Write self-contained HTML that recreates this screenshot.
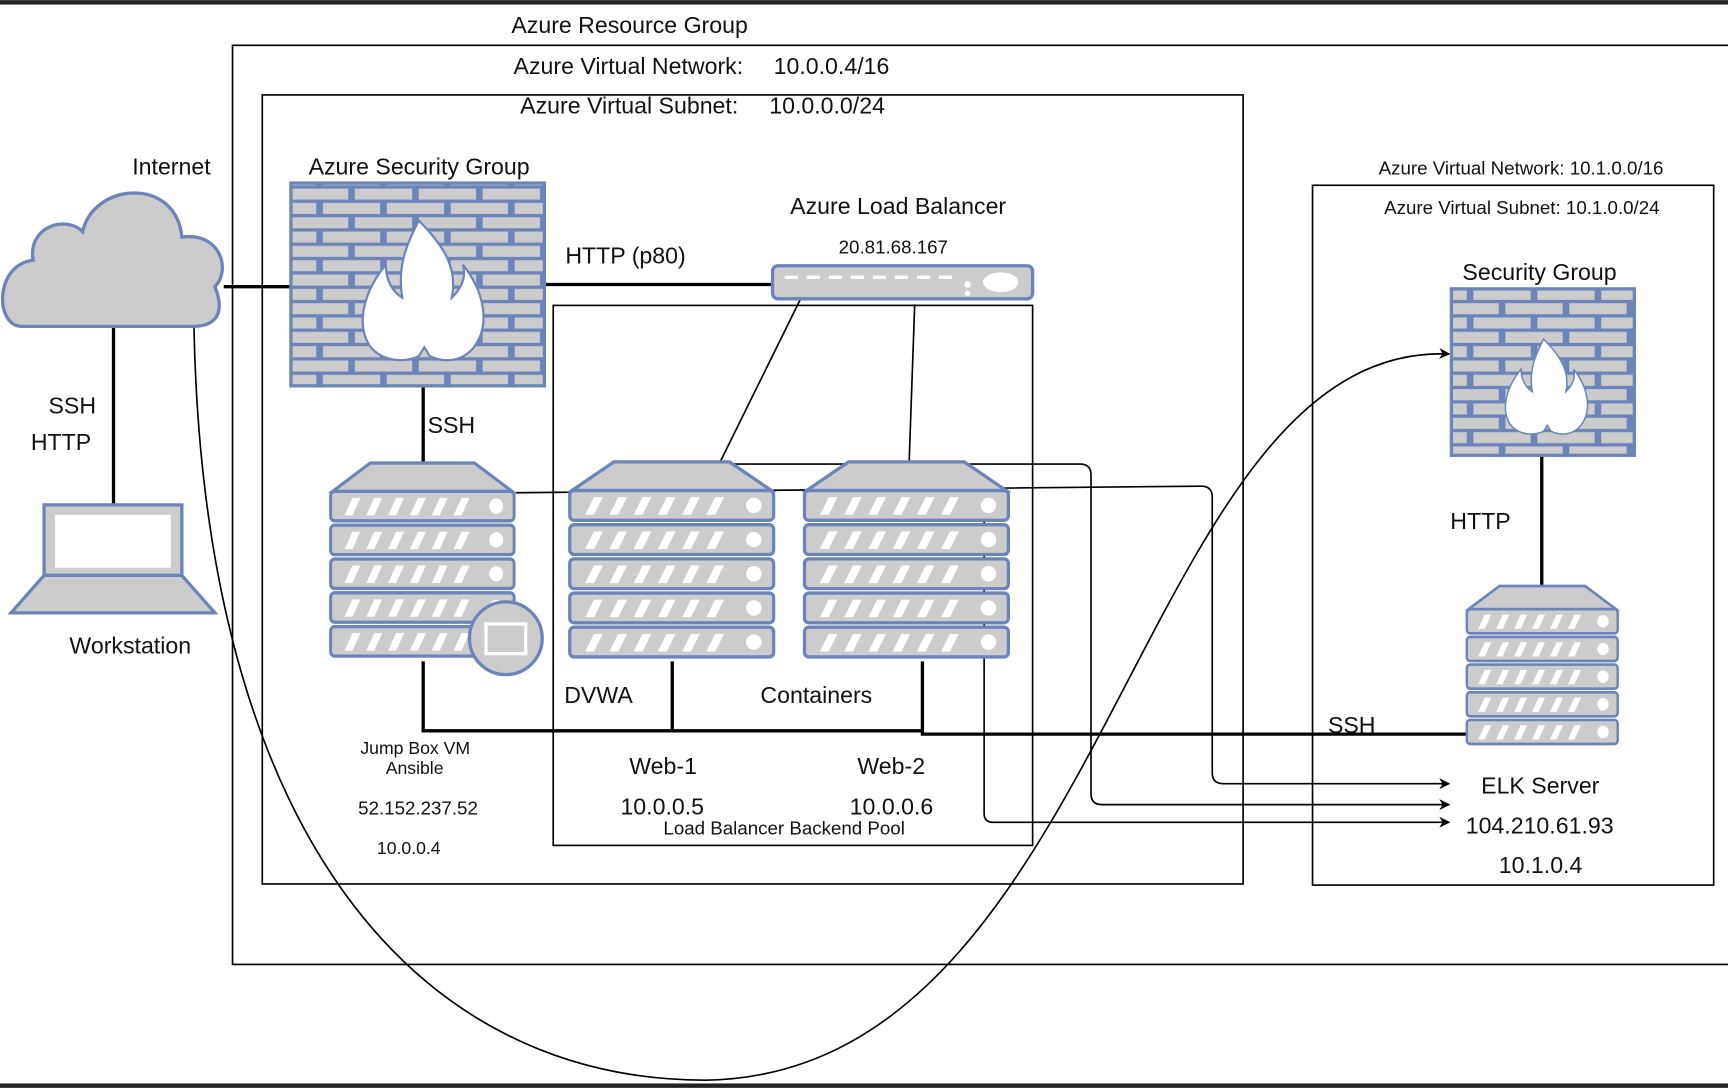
<!DOCTYPE html>
<html><head><meta charset="utf-8"><style>
html,body{margin:0;padding:0;background:#fff;}
svg{display:block;}
text{font-family:"Liberation Sans",Arial,sans-serif;fill:#111;}
</style></head><body>
<svg width="1728" height="1088" viewBox="0 0 1568 987" xmlns="http://www.w3.org/2000/svg">
<defs>
<marker id="ar" markerWidth="10" markerHeight="10" refX="9" refY="5" orient="auto" markerUnits="userSpaceOnUse"><path d="M0,0 L10,5 L0,10 L3,5 z" fill="#000"/></marker>
<g id="row">
 <rect x="0" y="0" width="185" height="27" rx="4" fill="#cccccc" stroke="#6c84b8" stroke-width="3"/>
 <g fill="#fff"><path d="M14,22 L22,6 L30,6 L22,22z"/><path d="M36,22 L44,6 L52,6 L44,22z"/><path d="M58,22 L66,6 L74,6 L66,22z"/><path d="M80,22 L88,6 L96,6 L88,22z"/><path d="M102,22 L110,6 L118,6 L110,22z"/><path d="M124,22 L132,6 L140,6 L132,22z"/></g>
 <circle cx="167" cy="13.5" r="7" fill="#fff"/>
</g>
<g id="srv">
 <path d="M2,28 L40,2 L145,2 L183,28z" fill="#cccccc" stroke="#6c84b8" stroke-width="3"/>
 <use href="#row" y="28"/><use href="#row" y="59"/><use href="#row" y="90"/><use href="#row" y="121"/><use href="#row" y="152"/>
</g>
<pattern id="brick" width="58" height="26" patternUnits="userSpaceOnUse">
 <rect width="58" height="26" fill="#6c84b8"/>
 <rect x="3" y="2" width="52" height="10" fill="#cccccc"/>
 <rect x="-26" y="15" width="52" height="10" fill="#cccccc"/><rect x="32" y="15" width="52" height="10" fill="#cccccc"/>
</pattern>
<g id="fire"><path d="M-5,-55 C20,-30 30,-10 25,15 C35,5 38,-5 35,-15 C55,10 60,40 45,60 C35,72 20,75 5,68 L0,60 L-5,68 C-20,75 -40,72 -50,58 C-62,38 -55,10 -35,-15 C-35,0 -28,10 -20,15 C-25,-15 -15,-35 -5,-55 Z" fill="#fff" stroke="#6c84b8" stroke-width="2"/></g>
</defs>
<rect x="0" y="0" width="1568" height="4" fill="#222"/>
<rect x="0" y="983" width="1568" height="4" fill="#222"/>
<rect x="211" y="41" width="1370" height="834" fill="none" stroke="#000" stroke-width="1.5"/>
<rect x="238" y="86" width="890" height="716" fill="none" stroke="#000" stroke-width="1.5"/>
<rect x="502" y="277" width="435" height="490" fill="none" stroke="#000" stroke-width="1.5"/>
<rect x="1191" y="168" width="364" height="635" fill="none" stroke="#000" stroke-width="1.5"/>
<g stroke="#000" stroke-width="3" fill="none">
<line x1="203" y1="260" x2="266" y2="260"/>
<line x1="492" y1="258" x2="702" y2="258"/>
<line x1="103" y1="296" x2="103" y2="459"/>
<line x1="384" y1="348" x2="384" y2="421"/>
<polyline points="384,600 384,663 837,663"/>
<line x1="610" y1="600" x2="610" y2="663"/>
<polyline points="837,600 837,666 1336,666"/>
<line x1="1399" y1="413" x2="1399" y2="531"/>
</g>
<g stroke="#000" stroke-width="1.5" fill="none">
<line x1="726" y1="272" x2="654" y2="418"/>
<line x1="830" y1="276" x2="825" y2="418"/>
<path d="M665,421 L980,421 Q990,421 990,431 L990,720 Q990,730 1000,730 L1315,730" marker-end="url(#ar)"/>
<path d="M468,447 L1090,441 Q1100,441 1100,451 L1100,701 Q1100,711 1110,711 L1315,711" marker-end="url(#ar)"/>
<path d="M880,447 L885,447 Q893,447 893,455 L893,738 Q893,746 901,746 L1315,746" marker-end="url(#ar)"/>
<path d="M176,296 C185,760 380,980 640,980 C1010,975 1030,310 1315,321" marker-end="url(#ar)"/>
</g>
<path d="M20,296 C-5,296 -5,240 30,236 C25,205 60,195 75,210 C85,165 160,160 165,215 C200,210 210,245 195,260 C205,285 195,296 175,296 Z" fill="#cccccc" stroke="#6c84b8" stroke-width="3"/>
<path d="M40,458 L165,458 L165,522 L40,522 Z" fill="#cccccc" stroke="#6c84b8" stroke-width="3"/>
<rect x="50" y="467" width="105" height="48" fill="#fff"/>
<path d="M40,522 L165,522 L195,556 L10,556 Z" fill="#cccccc" stroke="#6c84b8" stroke-width="3"/>
<rect x="264" y="166" width="230" height="184" fill="url(#brick)" stroke="#6c84b8" stroke-width="3"/>
<use href="#fire" transform="translate(385,255)"/>
<rect x="1317" y="262" width="166" height="151" fill="url(#brick)" stroke="#6c84b8" stroke-width="3"/>
<use href="#fire" transform="translate(1404,345) scale(0.68)"/>
<rect x="701" y="241" width="236" height="30" rx="5" fill="#cccccc" stroke="#6c84b8" stroke-width="3"/>
<g fill="#fff"><rect x="712" y="250" width="12" height="3"/><rect x="732" y="250" width="12" height="3"/><rect x="752" y="250" width="12" height="3"/><rect x="772" y="250" width="12" height="3"/><rect x="792" y="250" width="12" height="3"/><rect x="812" y="250" width="12" height="3"/><rect x="832" y="250" width="12" height="3"/><rect x="852" y="250" width="12" height="3"/><circle cx="878" cy="258" r="3"/><circle cx="878" cy="266" r="2.5"/><ellipse cx="908" cy="256" rx="16" ry="9"/></g>
<use href="#srv" transform="translate(300,418) scale(0.9,0.99)"/>
<circle cx="459" cy="579" r="33" fill="#cccccc" stroke="#6c84b8" stroke-width="3"/>
<rect x="441" y="566" width="36" height="27" fill="none" stroke="#fff" stroke-width="3"/>
<use href="#srv" transform="translate(517,417)"/>
<use href="#srv" transform="translate(730,417)"/>
<use href="#srv" transform="translate(1331,530) scale(0.74,0.81)"/>
<g font-size="21">
<text x="464" y="30">Azure Resource Group</text>
<text x="466" y="67">Azure Virtual Network:</text><text x="702" y="67">10.0.0.4/16</text>
<text x="472" y="103">Azure Virtual Subnet:</text><text x="698" y="103">10.0.0.0/24</text>
<text x="120" y="158">Internet</text>
<text x="280" y="158">Azure Security Group</text>
<text x="717" y="194">Azure Load Balancer</text>
<text x="513" y="239">HTTP (p80)</text>
<text x="44" y="375">SSH</text>
<text x="28" y="408">HTTP</text>
<text x="388" y="393">SSH</text>
<text x="63" y="593">Workstation</text>
<text x="512" y="638">DVWA</text>
<text x="690" y="638">Containers</text>
<text x="571" y="702">Web-1</text>
<text x="778" y="702">Web-2</text>
<text x="563" y="739">10.0.0.5</text>
<text x="771" y="739">10.0.0.6</text>
<text x="1327" y="254">Security Group</text>
<text x="1316" y="480">HTTP</text>
<text x="1205" y="665">SSH</text>
<text x="1344" y="720">ELK Server</text>
<text x="1330" y="756">104.210.61.93</text>
<text x="1360" y="792">10.1.0.4</text>
</g>
<g font-size="17">
<text x="761" y="230">20.81.68.167</text>
<text x="602" y="757">Load Balancer Backend Pool</text>
<text x="325" y="739">52.152.237.52</text>
<text x="1251" y="158">Azure Virtual Network: 10.1.0.0/16</text>
<text x="1256" y="194">Azure Virtual Subnet: 10.1.0.0/24</text>
</g>
<g font-size="16">
<text x="327" y="684">Jump Box VM</text>
<text x="350" y="702">Ansible</text>
<text x="342" y="775">10.0.0.4</text>
</g>
</svg>
</body></html>
